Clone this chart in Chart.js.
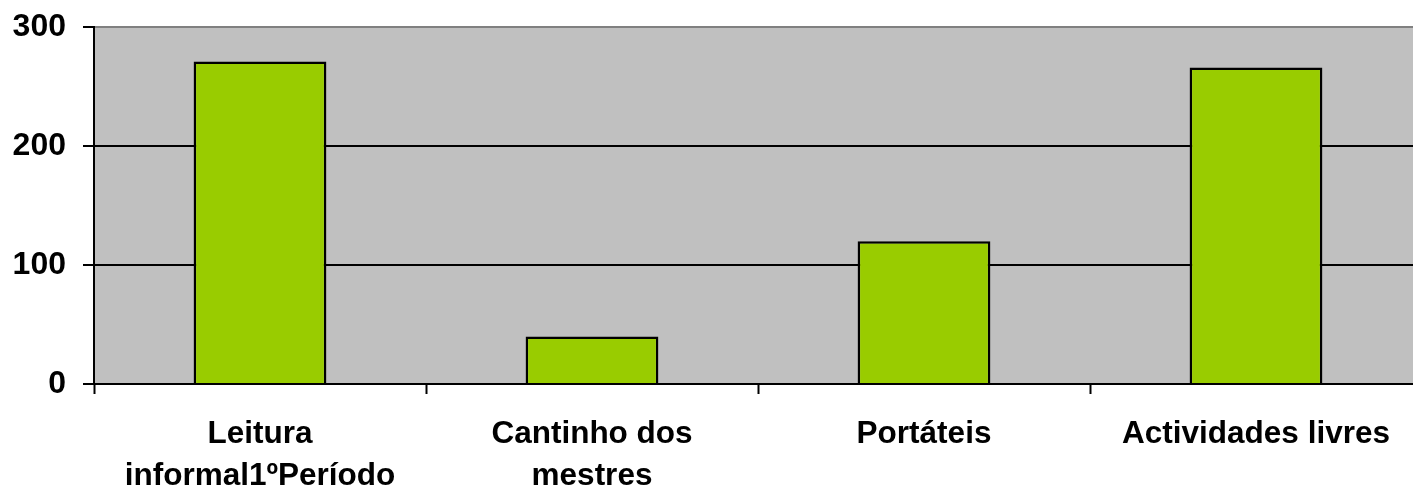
<!DOCTYPE html>
<html>
<head>
<meta charset="utf-8">
<script src="https://cdn.jsdelivr.net/npm/chart.js@4"></script>
<style>
  html, body { margin: 0; padding: 0; background: #fff; overflow: hidden; }
  /* the plot runs slightly past the right edge in the original, so the canvas is a bit wider than the window */
  #wrap { width: 1413px; height: 490px; overflow: hidden; }
</style>
</head>
<body>
<div id="wrap"><canvas id="barChart" width="1422" height="490"></canvas></div>
<script>
// Chart data
const categories = [
    ['Leitura', 'informal1ºPeríodo'],
    ['Cantinho dos', 'mestres'],
    'Portáteis',
    'Actividades livres'
];
const values = [271, 40, 120, 266];
const yTicks = [0, 100, 200, 300];

// Grey plot background
const plotBackground = {
    id: 'plotBackground',
    beforeDraw(chart) {
        const { ctx, chartArea } = chart;
        ctx.save();
        ctx.fillStyle = '#C0C0C0';
        ctx.fillRect(chartArea.left, chartArea.top, chartArea.right - chartArea.left, chartArea.bottom - chartArea.top);
        ctx.restore();
    }
};

const family = '"Liberation Sans", Arial, sans-serif';

new Chart(document.getElementById('barChart').getContext('2d'), {
    type: 'bar',
    data: {
        labels: categories,
        datasets: [{
            data: values,
            backgroundColor: '#99CC00',
            borderColor: '#000000',
            borderWidth: 2.5,
            categoryPercentage: 1,
            barPercentage: 0.4
        }]
    },
    options: {
        responsive: false,
        animation: false,
        layout: { padding: { top: 27, right: 0, left: 0, bottom: 0 } },
        plugins: {
            legend: { display: false },
            tooltip: { enabled: false }
        },
        scales: {
            x: {
                offset: true,
                grid: {
                    offset: true,
                    drawOnChartArea: false,
                    drawTicks: true,
                    tickLength: 10,
                    tickWidth: 2,
                    tickColor: '#000'
                },
                border: { color: '#000', width: 2 },
                ticks: {
                    color: '#000',
                    font: { family: family, size: 31.5, weight: 'bold', lineHeight: 1.32 },
                    padding: 20,
                    maxRotation: 0,
                    autoSkip: false
                },
                afterFit(scale) {
                    scale.height = 106;
                    scale.paddingLeft = 0;
                    scale.paddingRight = 0;
                }
            },
            y: {
                min: 0,
                max: 300,
                afterBuildTicks(scale) { scale.ticks = yTicks.map(v => ({ value: v })); },
                grid: {
                    color: ctx => (ctx.tick && ctx.tick.value === 300) ? '#808080' : '#000',
                    lineWidth: 2,
                    tickLength: 11,
                    tickColor: '#000',
                    tickWidth: 2
                },
                border: { color: '#000', width: 2 },
                ticks: {
                    color: '#000',
                    font: { family: family, size: 32, weight: 'bold' },
                    padding: 17
                },
                afterFit(scale) {
                    scale.width = 94;
                    scale.paddingTop = 0;
                    scale.paddingBottom = 0;
                }
            }
        }
    },
    plugins: [plotBackground]
});
</script>
</body>
</html>
